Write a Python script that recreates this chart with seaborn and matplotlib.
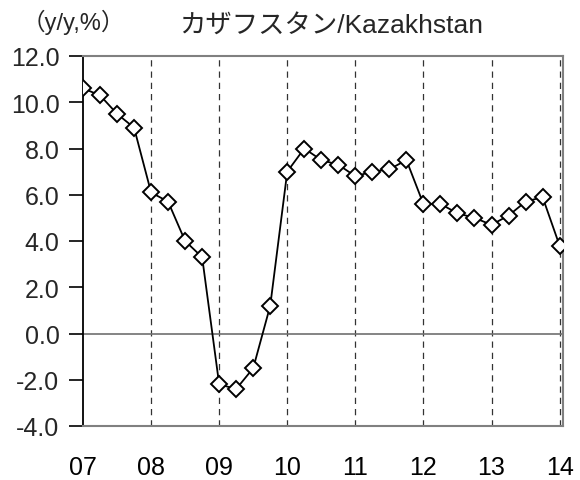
import matplotlib
matplotlib.use("Agg")
import matplotlib.pyplot as plt
import seaborn as sns
import pandas as pd
import numpy as np

values = [10.6, 10.3, 9.5, 8.9, 6.1, 5.7, 4.0, 3.3,
          -2.2, -2.4, -1.5, 1.2, 7.0, 8.0, 7.5, 7.3,
          6.8, 7.0, 7.1, 7.5, 5.6, 5.6, 5.2, 5.0,
          4.7, 5.1, 5.7, 5.9, 3.8]
year_labels = ["07", "08", "09", "10", "11", "12", "13", "14"]
y_ticks = [-4.0, -2.0, 0.0, 2.0, 4.0, 6.0, 8.0, 10.0, 12.0]
title = "カザフスタン/Kazakhstan"
unit = "（y/y,%）"

sns.set_theme(style="white")
plt.rcParams['font.family'] = ['Liberation Sans', 'Noto Sans CJK JP', 'DejaVu Sans']

df = pd.DataFrame({"q": np.arange(len(values)), "v": values})

fig = plt.figure(figsize=(5.8, 4.81), dpi=100)
ax = fig.add_axes([83/580, 1-427/481, (563-83)/580, (427-57)/481])

year_pos = [4 * k for k in range(len(year_labels))]
for xp in year_pos[1:]:
    ax.axvline(xp, color="#333333", lw=0.9, ls=(0, (5, 4)), zorder=1)
ax.axhline(0, color="#707070", lw=1.2, zorder=1)

sns.lineplot(data=df, x="q", y="v", ax=ax, color="black", lw=1.3,
             marker="D", markersize=8, markerfacecolor="white",
             markeredgecolor="black", markeredgewidth=1.4, zorder=3)

ax.set_xlim(0, 28.2)
ax.set_ylim(-4, 12)
ax.set_xticks(year_pos)
ax.set_xticklabels(year_labels, fontsize=18)
ax.set_yticks(y_ticks)
ax.set_yticklabels([f"{t:.1f}" for t in y_ticks], fontsize=18)
ax.set_xlabel("")
ax.set_ylabel("")
ax.tick_params(axis="x", length=0, pad=21, colors="black")
ax.tick_params(axis="y", length=10, width=1.2, color="black", pad=7, direction="out", left=True)
for s in ["top", "right", "bottom"]:
    ax.spines[s].set_color("#808080")
    ax.spines[s].set_linewidth(1.5)
ax.spines["left"].set_color("black")
ax.spines["left"].set_linewidth(1.3)
ax.grid(False)

fig.text(22/580, 1-22/481, unit, fontsize=17, va="center", ha="left")
fig.text(331/580, 1-26/481, title, fontsize=19, va="center", ha="center")

fig.savefig("out.png", dpi=100)
